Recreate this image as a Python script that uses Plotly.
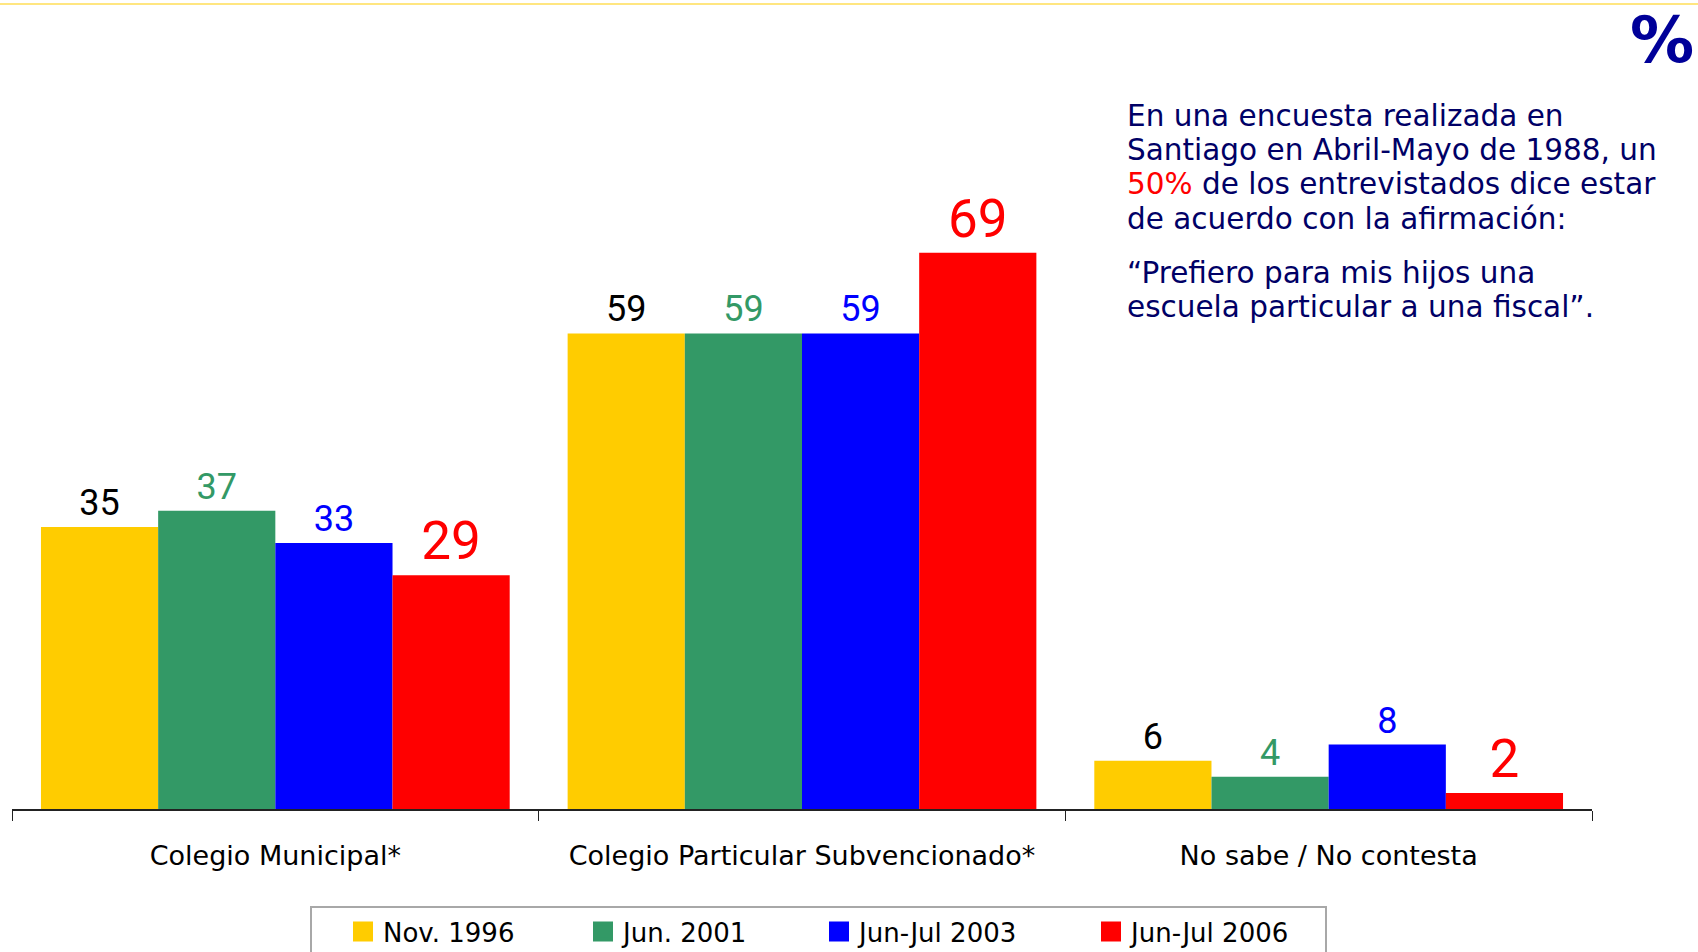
import plotly.graph_objects as go

categories = ["Colegio Municipal*", "Colegio Particular Subvencionado*", "No sabe / No contesta"]
series_names = ["Nov. 1996", "Jun. 2001", "Jun-Jul 2003", "Jun-Jul 2006"]
nov_1996 = [35, 59, 6]
jun_2001 = [37, 59, 4]
jun_jul_2003 = [33, 59, 8]
jun_jul_2006 = [29, 69, 2]

bar_colors = ["#FFCC00", "#339966", "#0000FF", "#FF0000"]
label_colors = ["#000000", "#339966", "#0000FF", "#FF0000"]
label_sizes = [36, 36, 36, 53]
legend_widths = [164, 160, 196, 189]

note_lines = [
    "En una encuesta realizada en",
    "Santiago en Abril-Mayo de 1988, un",
    "<span style='color:#FF0000'>50%</span> de los entrevistados dice estar",
    "de acuerdo con la afirmación:",
    "“Prefiero para mis hijos una",
    "escuela particular a una fiscal”.",
]
note_centers_px = [116, 150, 184, 219, 273, 307]

W, H = 1698, 952
ML, MR, MT, MB = 12, 106, 0, 143
plot_w = W - ML - MR
plot_h = H - MT - MB
px_per_unit = 8.06

fig = go.Figure()

values = [nov_1996, jun_2001, jun_jul_2003, jun_jul_2006]
for name, vals, c, lc, ls in zip(series_names, values, bar_colors, label_colors, label_sizes):
    fig.add_trace(go.Bar(
        x=categories, y=vals, name=name,
        marker=dict(color=c, line=dict(width=0)),
        text=vals, texttemplate="%{text}", textposition="outside",
        textfont=dict(family="Roboto", size=ls, color=lc),
        cliponaxis=False, showlegend=False, hoverinfo="skip",
    ))

# legend swatches (bigger squares than the default bar icon)
for name, c, lw in zip(series_names, bar_colors, legend_widths):
    fig.add_trace(go.Scatter(
        x=[None], y=[None], mode="markers", name=name,
        marker=dict(symbol="square", size=16, color=c, line=dict(color=c, width=4)),
        legendwidth=lw,
    ))

def py(px):
    return 1 - (px - MT) / plot_h

def pxx(px):
    return (px - ML) / plot_w

for line, cy in zip(note_lines, note_centers_px):
    fig.add_annotation(
        text=line, xref="paper", yref="paper", x=pxx(1125), y=py(cy),
        xanchor="left", yanchor="middle", showarrow=False, align="left",
        font=dict(family="DejaVu Sans", size=29.5, color="#000066"),
    )

fig.add_annotation(
    text="<b>%</b>", xref="paper", yref="paper", x=pxx(1628), y=py(40),
    xanchor="left", yanchor="middle", showarrow=False,
    font=dict(family="DejaVu Sans", size=64, color="#000099"),
)

# thin yellow rule at the top of the slide
fig.add_shape(type="line", xref="paper", yref="paper",
              x0=pxx(0), x1=pxx(W), y0=py(4), y1=py(4),
              line=dict(color="#FFE680", width=2))

fig.update_layout(
    width=W, height=H,
    margin=dict(l=ML, r=MR, t=MT, b=MB),
    paper_bgcolor="white", plot_bgcolor="white",
    barmode="group", bargap=0.11, bargroupgap=0,
    xaxis=dict(
        showline=True, linecolor="#222222", linewidth=1.5,
        ticks="outside", tickson="boundaries", ticklen=10, tickcolor="#222222", tickwidth=1,
        tickfont=dict(family="DejaVu Sans", size=27, color="#000000"),
        ticklabelstandoff=22, showgrid=False, zeroline=False,
    ),
    yaxis=dict(visible=False, range=[0, plot_h / px_per_unit], showgrid=False, zeroline=False),
    legend=dict(
        orientation="h", xref="container", yref="container",
        x=310 / W, y=1 - 906 / H, xanchor="left", yanchor="top",
        bordercolor="#A8A8A8", borderwidth=2, bgcolor="white",
        font=dict(family="DejaVu Sans", size=26, color="#000000"),
        indentation=31,
    ),
    showlegend=True,
)

fig.write_html("out.html", config={"displayModeBar": False},
               post_script="document.body.style.margin='0px';")
